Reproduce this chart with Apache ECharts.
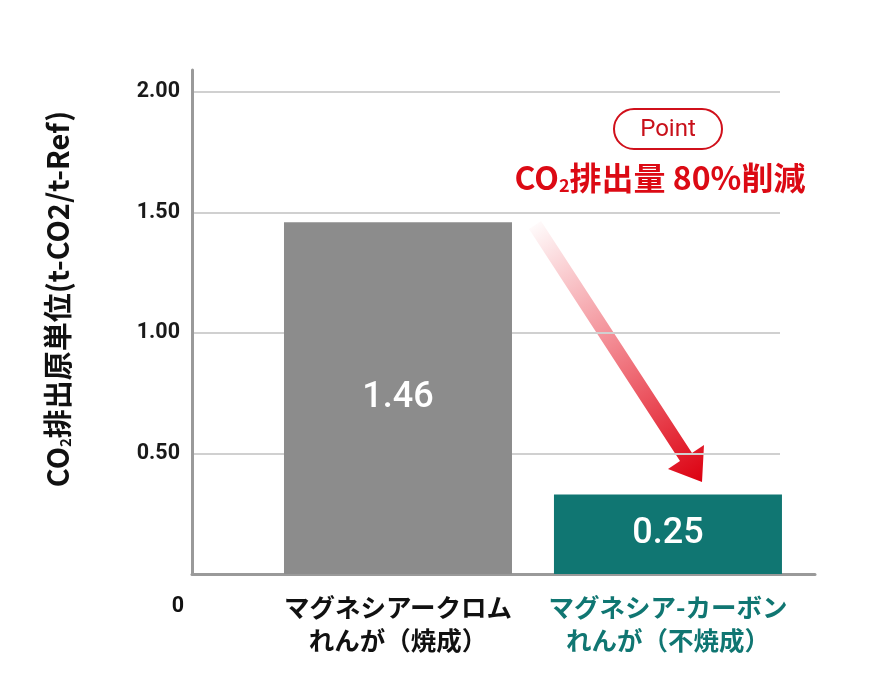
<!DOCTYPE html>
<html>
<head>
<meta charset="utf-8">
<script src="https://cdn.jsdelivr.net/npm/echarts@6/dist/echarts.min.js"></script>
<style>
html, body { margin: 0; padding: 0; background: #fff; }
#main { width: 896px; height: 694px; }
</style>
</head>
<body>
<div id="main"></div>
<script>
"use strict";

// data
var categories = ['マグネシアークロム\nれんが（焼成）', 'マグネシア-カーボン\nれんが（不焼成）'];
var categoryPos = [1, 2];
var barHeights = [1.46, 0.33];
var barLabels = ['1.46', '0.25'];
var yTicks = [0.5, 1.0, 1.5, 2.0];

var GREY = '#8c8c8c',
	TEAL = '#107672',
	RED = '#dc0a14',
	AXIS = '#9a9a9a',
	JP = '"Noto Sans CJK JP", sans-serif',
	NUM = 'Roboto, "Noto Sans CJK JP", sans-serif';

var chart = echarts.init(document.getElementById('main'));

function catLabel(v) {
	var i = categoryPos.indexOf(v);
	if (i < 0) return '';
	var s = i === 0 ? 'a' : 'b';
	return categories[i].split('\n').map(function (t) {
		return '{' + s + '|' + t + '}';
	}).join('\n');
}

var option = {
	backgroundColor: '#fff',
	animation: false,
	grid: [
		{left: 192, right: 116, top: 92, bottom: 120},
		{left: 192, right: 81, top: 70, bottom: 120}
	],
	xAxis: [{
		gridIndex: 0,
		type: 'value',
		min: 0.237,
		max: 2.415,
		axisLine: {show: false},
		axisTick: {show: false},
		splitLine: {show: false},
		axisLabel: {
			customValues: categoryPos,
			margin: 17,
			formatter: catLabel,
			rich: {
				a: {color: '#111', fontSize: 25.5, fontWeight: 'bold', lineHeight: 33, fontFamily: JP},
				b: {color: TEAL, fontSize: 25.5, fontWeight: 'bold', lineHeight: 33, fontFamily: JP}
			}
		}
	}, {
		gridIndex: 1,
		type: 'value',
		min: 0,
		max: 1,
		axisLine: {show: true, onZero: false, lineStyle: {color: AXIS, width: 3}},
		axisTick: {show: false},
		axisLabel: {show: false},
		splitLine: {show: false}
	}],
	yAxis: [{
		gridIndex: 0,
		type: 'value',
		min: 0,
		max: 2,
		interval: 0.5,
		axisLine: {show: false, onZero: false},
		axisTick: {show: false},
		splitLine: {lineStyle: {color: '#d0d0d0', width: 2}},
		axisLabel: {
			customValues: yTicks,
			margin: 12,
			color: '#1a1a1a',
			fontSize: 21.5,
			fontWeight: 'bold',
			fontFamily: NUM,
			formatter: function (v) { return v.toFixed(2); }
		}
	}, {
		gridIndex: 1,
		type: 'value',
		min: 0,
		max: 1,
		axisLine: {show: true, onZero: false, lineStyle: {color: AXIS, width: 3}},
		axisTick: {show: false},
		axisLabel: {show: false},
		splitLine: {show: false}
	}],
	series: [{
		type: 'bar',
		xAxisIndex: 0,
		yAxisIndex: 0,
		barWidth: 228,
		data: categoryPos.map(function (x, i) {
			return {value: [x, barHeights[i]], itemStyle: {color: i === 0 ? GREY : TEAL}};
		}),
		label: {
			show: true,
			position: 'inside',
			color: '#fff',
			fontSize: 36,
			fontWeight: 500,
			fontFamily: NUM,
			formatter: function (p) { return barLabels[p.dataIndex]; }
		}
	}],
	graphic: [{
		// y axis name
		type: 'text',
		x: 58,
		y: 299,
		rotation: Math.PI / 2,
		style: {
			text: 'CO{s|2}排出原単位(t-CO2/t-Ref)',
			fill: '#111',
			fontSize: 29,
			fontWeight: 'bold',
			fontFamily: JP,
			align: 'center',
			verticalAlign: 'middle',
			rich: {s: {fontSize: 15, fontWeight: 'bold', fontFamily: JP, fill: '#111', verticalAlign: 'bottom', lineHeight: 26}}
		}
	}, {
		type: 'text',
		x: 178,
		y: 607,
		style: {text: '0', fill: '#111', fontSize: 21.5, fontWeight: 'bold', fontFamily: NUM, align: 'center', verticalAlign: 'middle'}
	}, {
		// Point pill
		type: 'rect',
		shape: {x: 614, y: 109, width: 108, height: 40, r: 20},
		style: {fill: 'none', stroke: '#d0101b', lineWidth: 2}
	}, {
		type: 'text',
		x: 668,
		y: 130,
		style: {text: 'Point', fill: '#c8101a', fontSize: 24, fontFamily: NUM, align: 'center', verticalAlign: 'middle'}
	}, {
		type: 'text',
		x: 660,
		y: 178,
		style: {
			text: 'CO{s|2}排出量 80%削減',
			fill: RED,
			fontSize: 32,
			fontWeight: 'bold',
			fontFamily: JP,
			align: 'center',
			verticalAlign: 'middle',
			rich: {s: {fontSize: 18, fontWeight: 'bold', fontFamily: JP, fill: RED, verticalAlign: 'bottom', lineHeight: 29}}
		}
	}, {
		// gradient arrow
		type: 'polygon',
		shape: {
			points: [[541, 221], [692, 453], [704, 445], [702, 482], [668, 469], [680, 461], [529, 229]]
		},
		style: {
			fill: new echarts.graphic.LinearGradient(535, 225, 702, 482, [
				{offset: 0, color: 'rgba(228,0,18,0.02)'},
				{offset: 0.45, color: 'rgba(228,0,18,0.45)'},
				{offset: 1, color: 'rgba(220,0,16,1)'}
			], true)
		}
	}]
};

chart.setOption(option);
</script>
</body>
</html>
